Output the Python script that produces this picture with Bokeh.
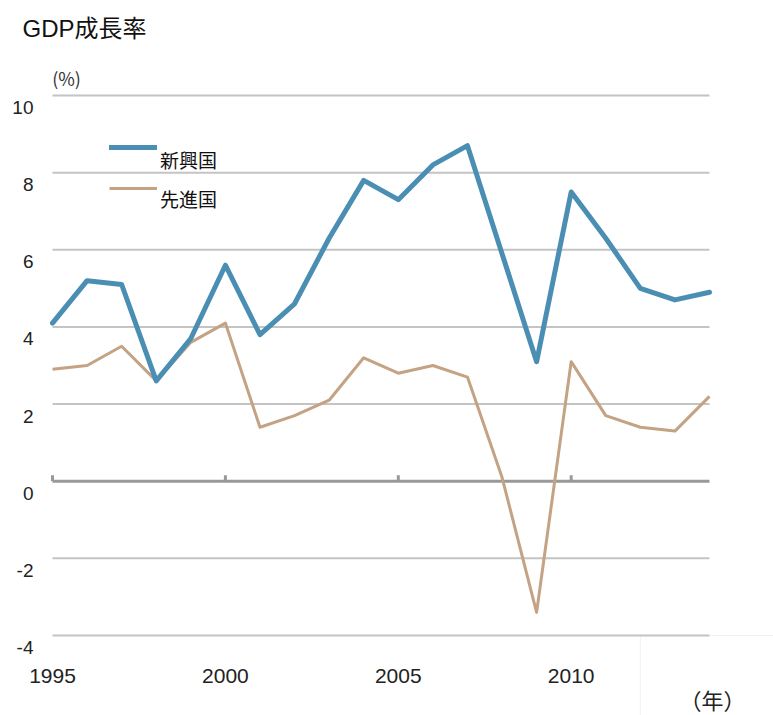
from bokeh.plotting import figure
from bokeh.models import (Range1d, Legend, LegendItem, Label, ColumnDataSource, BoxAnnotation)
from bokeh.embed import file_html
from bokeh.resources import INLINE

years = list(range(1995, 2015))
emerging = [4.1, 5.2, 5.1, 2.6, 3.7, 5.6, 3.8, 4.6, 6.3, 7.8, 7.3, 8.2, 8.7, 5.9, 3.1, 7.5, 6.3, 5.0, 4.7, 4.9]
advanced = [2.9, 3.0, 3.5, 2.6, 3.6, 4.1, 1.4, 1.7, 2.1, 3.2, 2.8, 3.0, 2.7, 0.1, -3.4, 3.1, 1.7, 1.4, 1.3, 2.2]
y_ticks = [10, 8, 6, 4, 2, 0, -2, -4]
x_ticks = [1995, 2000, 2005, 2010]
series_names = ["新興国", "先進国"]
title_text = "GDP成長率"
y_unit = "(%)"
x_unit = "（年）"

BLUE = "#4b8eb4"
BROWN = "#c4a284"
GRID = "#c4c4c4"
AXIS = "#999999"
LATIN = "'Liberation Sans', 'Noto Sans CJK JP'"
CJK = "'Noto Sans CJK JP'"

# layout: pixel positions of the plotting area inside the 773x715 canvas
W, H = 773, 715
X0_PX, X1_PX = 52, 709     # x of first / last year
YT_PX, YB_PX = 95, 635     # y of top / bottom y tick
x_first, x_last = years[0], years[-1]
y_top, y_bot = max(y_ticks), min(y_ticks)
kx = (X1_PX - X0_PX) / (x_last - x_first)
ky = (YB_PX - YT_PX) / (y_top - y_bot)
x_range = Range1d(x_first - X0_PX / kx, x_last + (W - X1_PX) / kx)
y_range = Range1d(y_bot - (H - YB_PX) / ky, y_top + YT_PX / ky)

p = figure(width=W, height=H, output_backend="svg", toolbar_location=None,
           x_range=x_range, y_range=y_range, min_border=0)
p.outline_line_color = None
p.background_fill_color = "white"
p.border_fill_color = "white"
p.xaxis.visible = False
p.yaxis.visible = False
p.xgrid.visible = False
p.ygrid.visible = False

# horizontal gridlines (from tick values)
grid_vals = [v for v in y_ticks if v != 0]
p.segment(x0=[x_first] * len(grid_vals), x1=[x_last] * len(grid_vals), y0=grid_vals, y1=grid_vals,
          line_color=GRID, line_width=2)

# thin frame at the lower right corner
p.add_layout(BoxAnnotation(left=2012, top=y_bot, right=x_range.end + 1, bottom=y_range.start - 1,
                           fill_alpha=0, line_color="#d4d4d4", line_width=1, level="underlay"))

# zero line with small tick marks
p.segment(x0=[x_first], x1=[x_last], y0=[0], y1=[0], line_color=AXIS, line_width=3)
p.segment(x0=x_ticks, x1=x_ticks, y0=[0] * len(x_ticks), y1=[6 / ky] * len(x_ticks),
          line_color=AXIS, line_width=3)

src = ColumnDataSource(dict(x=years, e=emerging, a=advanced))
r_adv = p.line("x", "a", source=src, line_color=BROWN, line_width=3, line_join="round")
r_emg = p.line("x", "e", source=src, line_color=BLUE, line_width=5, line_join="round", line_cap="round")

# tick labels
for v in y_ticks:
    p.add_layout(Label(x=x_first, y=v, x_offset=-19, y_offset=-12, text=str(v),
                       text_align="right", text_baseline="middle",
                       text_font=LATIN, text_font_size="19px", text_color="#222222"))
for v in x_ticks:
    p.add_layout(Label(x=v, y=y_bot, y_offset=-40, text=str(v),
                       text_align="center", text_baseline="middle",
                       text_font=LATIN, text_font_size="21px", text_color="#222222"))

# titles / units
p.add_layout(Label(x=x_first, y=y_top, x_offset=-30, y_offset=67, text=title_text,
                   text_align="left", text_baseline="middle",
                   text_font=LATIN, text_font_size="24px", text_color="#111111"))
p.add_layout(Label(x=x_first, y=y_top, x_offset=14, y_offset=18, text=y_unit,
                   text_align="center", text_baseline="middle",
                   text_font=CJK, text_font_size="18px", text_color="#333333"))
p.add_layout(Label(x=x_last, y=y_bot, x_offset=3, y_offset=-63, text=x_unit,
                   text_align="center", text_baseline="middle",
                   text_font=CJK, text_font_size="22px", text_color="#222222"))

# legend: line samples, and labels set slightly lower
dummy_e = p.line(x=[], y=[], line_alpha=0)
dummy_a = p.line(x=[], y=[], line_alpha=0)
legend_glyphs = Legend(items=[LegendItem(label=" ", renderers=[r_emg]),
                              LegendItem(label=" ", renderers=[r_adv])],
                       location=(109, 517), padding=0, margin=0, spacing=21,
                       glyph_width=48, glyph_height=20, label_height=20, label_standoff=0,
                       border_line_color=None, background_fill_alpha=0,
                       label_text_font_size="1px")
legend_labels = Legend(items=[LegendItem(label=series_names[0], renderers=[dummy_e]),
                              LegendItem(label=series_names[1], renderers=[dummy_a])],
                       location=(160, 503), padding=0, margin=0, spacing=11,
                       glyph_width=0, glyph_height=28, label_height=28, label_standoff=0,
                       border_line_color=None, background_fill_alpha=0,
                       label_text_font=CJK, label_text_font_size="19px",
                       label_text_color="#111111")
p.add_layout(legend_glyphs)
p.add_layout(legend_labels)

open("out.html", "w").write(file_html(p, INLINE))
